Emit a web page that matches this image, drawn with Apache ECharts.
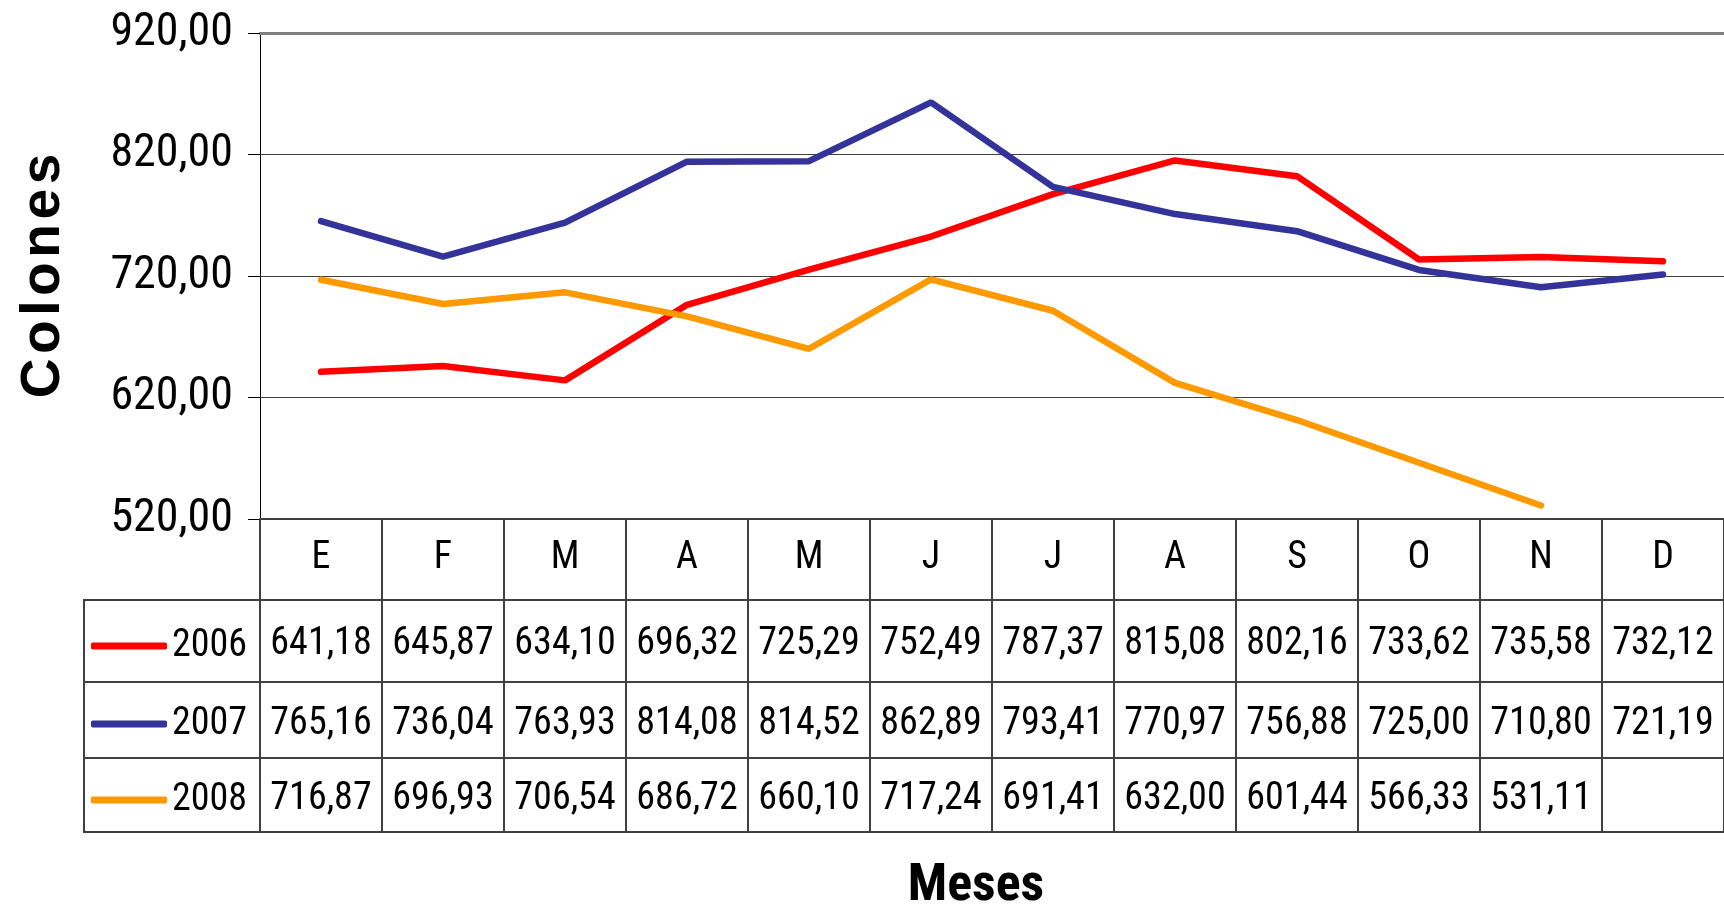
<!DOCTYPE html>
<html>
<head>
<meta charset="utf-8">
<script src="https://cdn.jsdelivr.net/npm/echarts@6/dist/echarts.min.js"></script>
<style>
  html, body { margin: 0; padding: 0; background: #fff; }
  #main { width: 1724px; height: 912px; }
</style>
</head>
<body>
<div id="main"></div>
<script>
const months = ['E', 'F', 'M', 'A', 'M', 'J', 'J', 'A', 'S', 'O', 'N', 'D'];
const years = ['2006', '2007', '2008'];
const s2006 = [641.18, 645.87, 634.10, 696.32, 725.29, 752.49, 787.37, 815.08, 802.16, 733.62, 735.58, 732.12];
const s2007 = [765.16, 736.04, 763.93, 814.08, 814.52, 862.89, 793.41, 770.97, 756.88, 725.00, 710.80, 721.19];
const s2008 = [716.87, 696.93, 706.54, 686.72, 660.10, 717.24, 691.41, 632.00, 601.44, 566.33, 531.11, null];
const yMin = 520, yMax = 920, yStep = 100;
const colors = ['#ff0000', '#333399', '#ff9900'];

const NARROW = '"Roboto Condensed", "Liberation Sans Narrow", sans-serif';
const fmt = v => (v == null ? '' : v.toFixed(2).replace('.', ','));
const lineCol = '#404040';

const myChart = echarts.init(document.getElementById('main'));

// one category axis per table row, stacked under the plot
const rowAxis = (labels, offset, tickLen, margin) => ({
    type: 'category',
    position: 'bottom',
    offset: offset,
    data: labels,
    boundaryGap: true,
    axisLine: { show: true, lineStyle: { color: lineCol, width: 2 } },
    axisTick: { show: tickLen > 0, inside: false, length: tickLen, alignWithLabel: false, lineStyle: { color: lineCol, width: 2 } },
    axisLabel: {
        show: labels.length > 0, interval: 0, margin: margin, verticalAlign: 'middle',
        fontFamily: NARROW, fontSize: 38, color: '#000'
    },
    splitLine: { show: false }
});

const legendRow = (name, top) => ({
    data: [name],
    left: 91,
    top: top,
    padding: 0,
    icon: 'roundRect',
    itemWidth: 76,
    itemHeight: 7,
    itemGap: 0,
    textStyle: { fontFamily: NARROW, fontSize: 38, color: '#000' }
});

const option = {
    animation: false,
    backgroundColor: '#fff',
    color: colors,
    grid: { left: 260, right: 0, top: 33, bottom: 393, containLabel: false, outerBoundsMode: 'none' },
    legend: [
        legendRow(years[0], 627),
        legendRow(years[1], 705),
        legendRow(years[2], 781)
    ],
    xAxis: [
        rowAxis(months, 0, 81, 39),
        rowAxis(s2006.map(fmt), 81, 82, 44),
        rowAxis(s2007.map(fmt), 163, 76, 42),
        rowAxis(s2008.map(fmt), 239, 74, 41),
        Object.assign(rowAxis([], 313, 0, 0), {
            data: months,
            name: 'Meses',
            nameLocation: 'middle',
            nameGap: 29,
            nameTextStyle: { fontFamily: NARROW, fontWeight: 'bold', fontSize: 52, color: '#000', padding: [0, 32, 0, 0] }
        }),
        {
            type: 'category',
            position: 'top',
            data: months,
            axisLine: { show: true, lineStyle: { color: '#808080', width: 3 } },
            axisTick: { show: false },
            axisLabel: { show: false }
        }
    ],
    yAxis: {
        type: 'value',
        min: yMin,
        max: yMax,
        interval: yStep,
        name: 'C\u200Ao\u200Al\u200Ao\u200An\u200Ae\u200As',
        nameLocation: 'middle',
        nameRotate: 90,
        nameGap: 189,
        nameTextStyle: { fontFamily: '"Liberation Sans", Arial, sans-serif', fontWeight: 'bold', fontSize: 55, color: '#000' },
        axisLine: { show: true, lineStyle: { color: '#000', width: 1 } },
        axisTick: { show: true, length: 12, lineStyle: { color: '#000' } },
        axisLabel: { margin: 27, fontFamily: NARROW, fontSize: 46, color: '#000', formatter: v => fmt(v) },
        splitLine: { show: true, lineStyle: { color: lineCol, width: 1 } }
    },
    series: [
        { name: years[0], type: 'line', data: s2006, symbol: 'none', lineStyle: { width: 6.5, cap: 'round' } },
        { name: years[1], type: 'line', data: s2007, symbol: 'none', lineStyle: { width: 6.5, cap: 'round' } },
        { name: years[2], type: 'line', data: s2008, symbol: 'none', lineStyle: { width: 6.5, cap: 'round' } }
    ],
    graphic: [
        { type: 'rect', shape: { x: 84, y: 600, width: 176, height: 232 }, style: { fill: null, stroke: lineCol, lineWidth: 2 } },
        { type: 'line', shape: { x1: 84, y1: 682, x2: 260, y2: 682 }, style: { stroke: lineCol, lineWidth: 2 } },
        { type: 'line', shape: { x1: 84, y1: 758, x2: 260, y2: 758 }, style: { stroke: lineCol, lineWidth: 2 } }
    ]
};

myChart.setOption(option);
</script>
</body>
</html>
